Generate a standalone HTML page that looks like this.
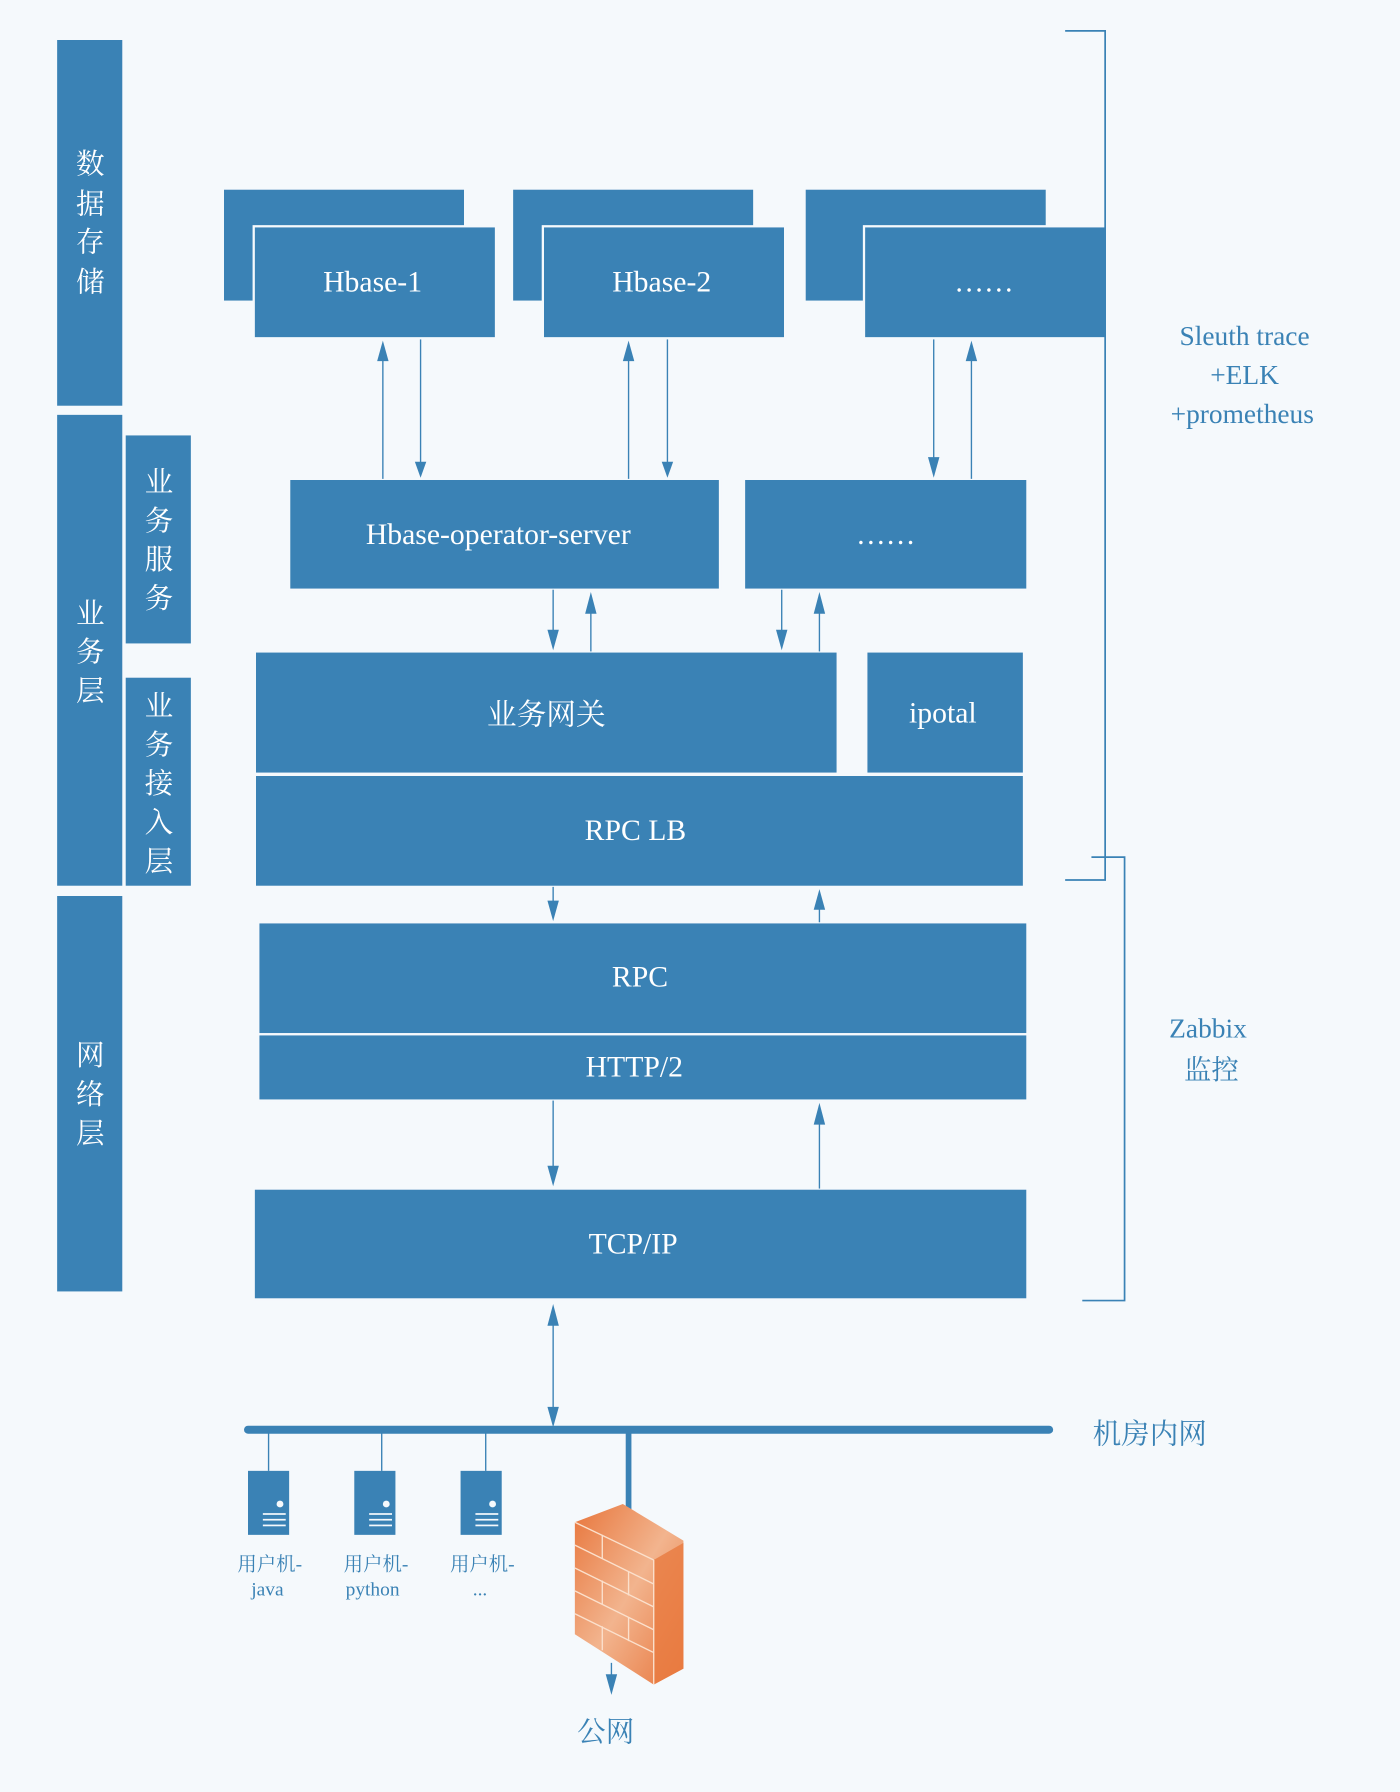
<!DOCTYPE html>
<html><head><meta charset="utf-8"><style>html,body{margin:0;padding:0;background:#f5f9fc}svg{display:block}</style></head><body>
<svg width="1400" height="1792" viewBox="0 0 1225 1568" xmlns="http://www.w3.org/2000/svg">
<defs>
<linearGradient id="fw" x1="0" y1="0" x2="1" y2="1"><stop offset="0" stop-color="#e8763c"/><stop offset="0.5" stop-color="#f2b48e"/><stop offset="1" stop-color="#e8763c"/></linearGradient>
</defs>
<rect width="1225" height="1568" fill="#f5f9fc"/>
<g fill="#3a82b5">
<rect x="50" y="35" width="57" height="320"/><rect x="50" y="363" width="57" height="412"/><rect x="50" y="784" width="57" height="346"/>
<rect x="110" y="381" width="57" height="182"/><rect x="110" y="593" width="57" height="182"/>
<rect x="196" y="166" width="210" height="97"/><rect x="449" y="166" width="210" height="97"/><rect x="705" y="166" width="210" height="97"/>
</g>
<g fill="#3a82b5" stroke="#f5f9fc" stroke-width="2">
<rect x="222" y="198" width="212" height="98"/><rect x="475" y="198" width="212" height="98"/><rect x="756" y="198" width="212" height="98"/>
<rect x="253" y="419" width="377" height="97"/><rect x="651" y="419" width="248" height="97"/>
<rect x="223" y="570" width="510" height="107"/><rect x="758" y="570" width="138" height="107"/><rect x="223" y="678" width="673" height="98"/>
<rect x="226" y="807" width="673" height="98"/><rect x="226" y="905" width="673" height="58"/>
<rect x="222" y="1040" width="677" height="97"/>
</g>
<g font-family="'Liberation Serif','Noto Serif CJK SC',serif" fill="#fff" font-size="26" text-anchor="middle">
<text x="326" y="255">Hbase-1</text><text x="579" y="255">Hbase-2</text><text x="861" y="255">……</text>
<text x="436" y="476">Hbase-operator-server</text><text x="775" y="476">……</text>
<text x="478" y="634">业务网关</text><text x="825" y="632">ipotal</text><text x="556" y="735">RPC LB</text>
<text x="560" y="863">RPC</text><text x="555" y="942">HTTP/2</text><text x="554" y="1097">TCP/IP</text>
</g>
<g font-family="'Liberation Serif','Noto Serif CJK SC',serif" fill="#fff" font-size="25" text-anchor="middle">
<text x="79" y="152">数</text><text x="79" y="187">据</text><text x="79" y="220">存</text><text x="79" y="255">储</text>
<text x="79" y="545">业</text><text x="79" y="579">务</text><text x="79" y="613">层</text>
<text x="79" y="932">网</text><text x="79" y="966">络</text><text x="79" y="1000">层</text>
<text x="139" y="430">业</text><text x="139" y="464">务</text><text x="139" y="498">服</text><text x="139" y="532">务</text>
<text x="139" y="626">业</text><text x="139" y="660">务</text><text x="139" y="694">接</text><text x="139" y="728">入</text><text x="139" y="762">层</text>
</g>
<g stroke="#3a82b5" stroke-width="1.2" fill="none">
<line x1="335" y1="419" x2="335" y2="305"/>
<line x1="368" y1="297" x2="368" y2="408"/>
<line x1="550" y1="419" x2="550" y2="305"/>
<line x1="584" y1="297" x2="584" y2="408"/>
<line x1="817" y1="297" x2="817" y2="408"/>
<line x1="850" y1="419" x2="850" y2="305"/>
<line x1="484" y1="516" x2="484" y2="560"/>
<line x1="517" y1="570" x2="517" y2="526"/>
<line x1="684" y1="516" x2="684" y2="560"/>
<line x1="717" y1="570" x2="717" y2="526"/>
<line x1="484" y1="776" x2="484" y2="796"/>
<line x1="717" y1="807" x2="717" y2="788"/>
<line x1="484" y1="963" x2="484" y2="1028"/>
<line x1="717" y1="1040" x2="717" y2="975"/>
<line x1="484" y1="1150" x2="484" y2="1240"/>
<line x1="535" y1="1455" x2="535" y2="1472"/>
<polyline points="932,27 967,27 967,770 932,770" stroke-width="1.5"/>
<polyline points="955,750 984,750 984,1138 947,1138" stroke-width="1.5"/>
<line x1="235" y1="1251" x2="235" y2="1287"/><line x1="334" y1="1251" x2="334" y2="1287"/><line x1="425" y1="1251" x2="425" y2="1287"/>
<line x1="217" y1="1251" x2="918" y2="1251" stroke-width="7" stroke-linecap="round"/>
<line x1="550" y1="1249" x2="550" y2="1325" stroke-width="5"/>
</g>
<g fill="#3a82b5">
<!-- up arrows: tip at y -->
<polygon points="330,316 340,316 335,298"/>
<polygon points="545,316 555,316 550,298"/>
<polygon points="845,316 855,316 850,298"/>
<polygon points="512,537 522,537 517,518"/>
<polygon points="712,537 722,537 717,518"/>
<polygon points="712,796 722,796 717,778"/>
<polygon points="712,984 722,984 717,965"/>
<polygon points="479,1160 489,1160 484,1141"/>
<!-- down arrows -->
<polygon points="363,404 373,404 368,418"/>
<polygon points="579,404 589,404 584,418"/>
<polygon points="812,400 822,400 817,418"/>
<polygon points="479,551 489,551 484,569"/>
<polygon points="679,551 689,551 684,569"/>
<polygon points="479,788 489,788 484,806"/>
<polygon points="479,1020 489,1020 484,1038"/>
<polygon points="479,1231 489,1231 484,1249"/>
<polygon points="530,1465 540,1465 535,1483"/>
</g>
<g fill="#3a82b5">
<rect x="217" y="1287" width="36" height="56"/><rect x="310" y="1287" width="36" height="56"/><rect x="403" y="1287" width="36" height="56"/>
</g>
<g fill="#f5f9fc">
<circle cx="245" cy="1316" r="3"/><rect x="230" y="1324" width="20" height="1.5"/><rect x="230" y="1329" width="20" height="1.5"/><rect x="230" y="1334" width="20" height="1.5"/>
<circle cx="338" cy="1316" r="3"/><rect x="323" y="1324" width="20" height="1.5"/><rect x="323" y="1329" width="20" height="1.5"/><rect x="323" y="1334" width="20" height="1.5"/>
<circle cx="431" cy="1316" r="3"/><rect x="416" y="1324" width="20" height="1.5"/><rect x="416" y="1329" width="20" height="1.5"/><rect x="416" y="1334" width="20" height="1.5"/>
</g>
<polygon points="503,1332 545,1316 598,1348 598,1460 572,1474 503,1430" fill="url(#fw)"/>
<polygon points="572,1365 598,1350 598,1460 572,1474" fill="#e87a40" opacity="0.8"/>
<g stroke="#fbe0cc" stroke-width="1.2" fill="none">
<line x1="572" y1="1365" x2="572" y2="1474"/><line x1="503" y1="1332" x2="572" y2="1365"/>
<line x1="503" y1="1352" x2="572" y2="1386"/><line x1="503" y1="1372" x2="572" y2="1406"/><line x1="503" y1="1392" x2="572" y2="1426"/><line x1="503" y1="1412" x2="572" y2="1446"/>
<line x1="527" y1="1343" x2="527" y2="1364"/><line x1="550" y1="1375" x2="550" y2="1396"/><line x1="527" y1="1383" x2="527" y2="1404"/><line x1="550" y1="1415" x2="550" y2="1436"/><line x1="527" y1="1423" x2="527" y2="1444"/>
</g>
<g font-family="'Liberation Serif','Noto Serif CJK SC',serif" fill="#3a82b5" text-anchor="middle">
<text x="1089" y="302" font-size="24">Sleuth trace</text><text x="1089" y="336" font-size="24">+ELK</text><text x="1087" y="370" font-size="24">+prometheus</text>
<text x="1057" y="908" font-size="24">Zabbix</text><text x="1060" y="944" font-size="24">监控</text>
<text x="1006" y="1263" font-size="25">机房内网</text>
<text x="530" y="1524" font-size="25">公网</text>
<text x="236" y="1374" font-size="17">用户机-</text><text x="234" y="1396" font-size="17">java</text>
<text x="329" y="1374" font-size="17">用户机-</text><text x="326" y="1396" font-size="17">python</text>
<text x="422" y="1374" font-size="17">用户机-</text><text x="420" y="1396" font-size="17">...</text>
</g>
</svg>
</body></html>
